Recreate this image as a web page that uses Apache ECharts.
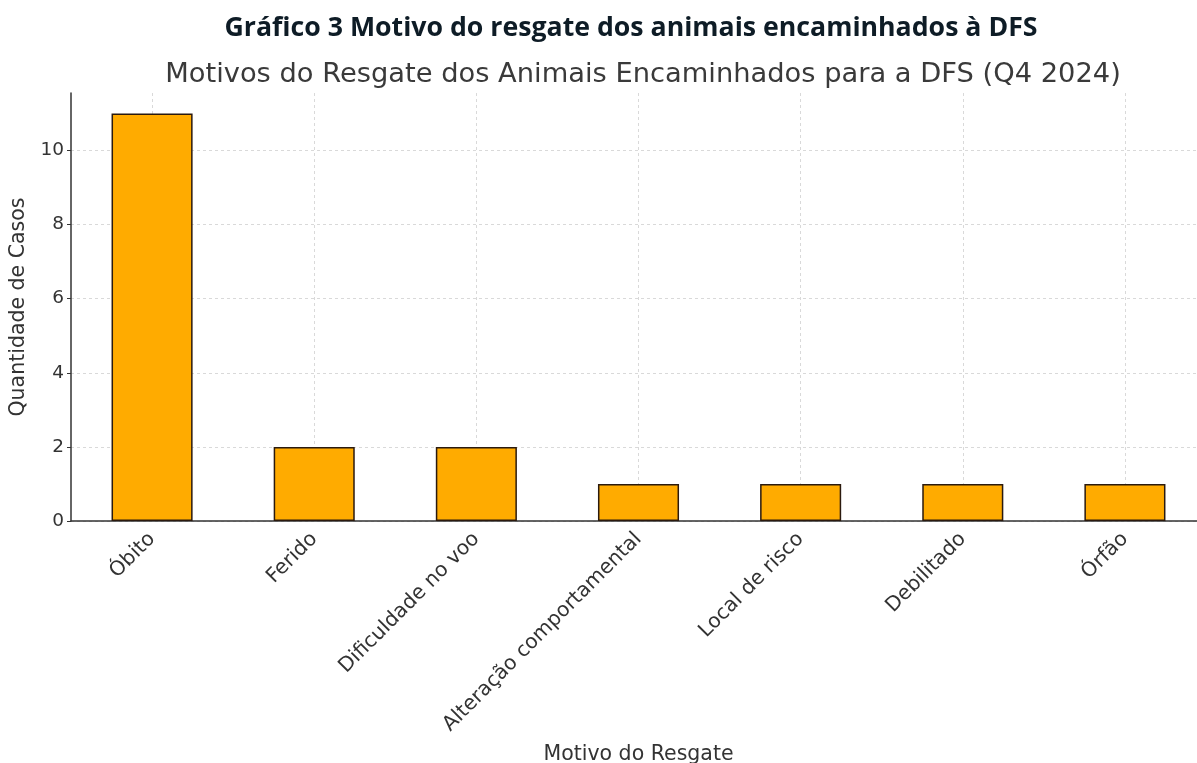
<!DOCTYPE html>
<html><head><meta charset="utf-8">
<script src="https://cdn.jsdelivr.net/npm/echarts@6/dist/echarts.min.js"></script>
<style>html,body{margin:0;padding:0;background:#fff}#c{width:1197px;height:763px}</style>
</head><body><div id="c"></div>
<script>
const categories = ["Óbito","Ferido","Dificuldade no voo","Alteração comportamental","Local de risco","Debilitado","Órfão"];
const casos = [11, 2, 2, 1, 1, 1, 1];
const yTicks = [0, 2, 4, 6, 8, 10];

const chart = echarts.init(document.getElementById('c'), null, {renderer: 'canvas'});
chart.setOption({
  backgroundColor: '#ffffff',
  animation: false,
  title: [
    {text: 'Gráfico 3 Motivo do resgate dos animais encaminhados à DFS', left: 626, top: 10, textAlign: 'center',
     textStyle: {fontFamily: 'Open Sans', fontWeight: 'bold', fontSize: 26.7, color: '#0e1c26'}},
    {text: 'Motivos do Resgate dos Animais Encaminhados para a DFS (Q4 2024)', left: 638, top: 56, textAlign: 'center',
     textStyle: {fontFamily: 'DejaVu Sans', fontWeight: 'normal', fontSize: 27.3, color: '#3a3a3a'}}
  ],
  grid: {left: 71, right: -9, top: 93, bottom: 242, containLabel: false, outerBoundsMode: 'none'},
  xAxis: {
    type: 'category', data: categories, boundaryGap: true,
    name: 'Motivo do Resgate', nameLocation: 'middle', nameGap: 223,
    nameTextStyle: {fontFamily: 'DejaVu Sans', fontSize: 20.5, color: '#333'},
    axisLine: {show: true, lineStyle: {color: '#333', width: 1.5}},
    axisTick: {show: true, alignWithLabel: true, inside: true, length: 4, lineStyle: {color: '#333'}},
    axisLabel: {rotate: 45, fontFamily: 'DejaVu Sans', fontSize: 20.3, color: '#333', margin: 15, interval: 0},
    splitLine: {show: true, alignWithLabel: true, lineStyle: {color: '#d9d9d9', type: [3, 3], width: 1}}
  },
  yAxis: {
    type: 'value', min: 0, max: 11.55, interval: 2,
    name: 'Quantidade de Casos', nameLocation: 'middle', nameGap: 39, nameRotate: 90,
    nameTextStyle: {fontFamily: 'DejaVu Sans', fontSize: 20.5, color: '#333'},
    axisLine: {show: true, lineStyle: {color: '#333', width: 1.5}},
    axisTick: {show: true, length: 4, lineStyle: {color: '#333'}},
    axisLabel: {fontFamily: 'DejaVu Sans', fontSize: 18.5, color: '#333', margin: 7, showMaxLabel: false,
      formatter: v => yTicks.includes(v) ? String(v) : ''},
    splitLine: {show: true, showMaxLine: false, lineStyle: {color: '#d9d9d9', type: [3, 3], width: 1}}
  },
  series: [{
    type: 'bar', data: casos, barWidth: '50%',
    itemStyle: {color: '#ffab00', borderColor: '#2b1a0e', borderWidth: 1.5}
  }]
});
</script></body></html>
